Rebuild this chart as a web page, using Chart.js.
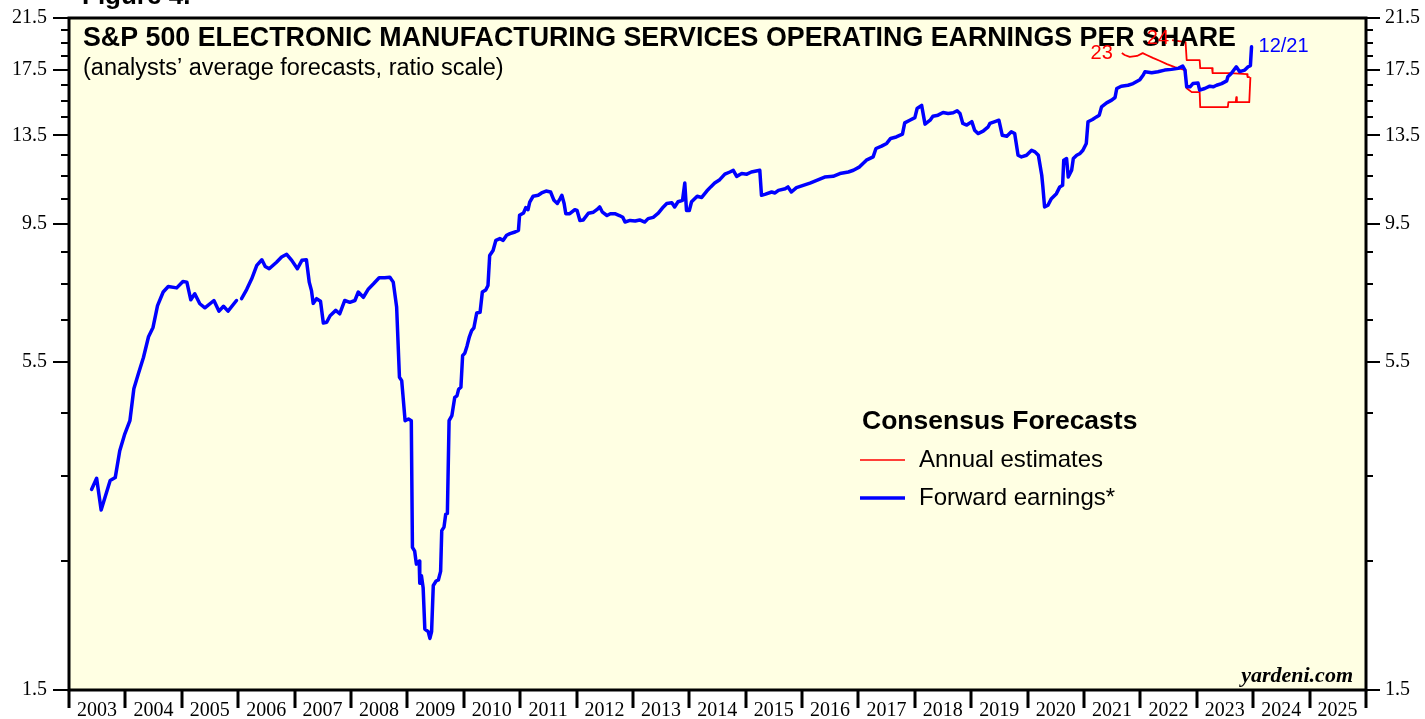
<!DOCTYPE html>
<html>
<head>
<meta charset="utf-8">
<script src="https://cdn.jsdelivr.net/npm/chart.js@4.4.0/dist/chart.umd.min.js"></script>
<style>
  html, body { margin: 0; padding: 0; background: #fff; }
</style>
</head>
<body>
<canvas id="grafica" width="1425" height="719"></canvas>
<script>
// forward earnings (weekly-ish readings), decimal years
const fwdDates = [
  2003.40, 2003.49, 2003.57, 2003.73, 2003.82, 2003.90, 2003.99, 2004.08, 2004.15, 2004.23,
  2004.32, 2004.41, 2004.49, 2004.57, 2004.67, 2004.76, 2004.91, 2005.02, 2005.09, 2005.16,
  2005.23, 2005.32, 2005.41, 2005.57, 2005.66, 2005.74, 2005.82, 2005.97, 2006.01, 2006.06,
  2006.15, 2006.24, 2006.33, 2006.42, 2006.48, 2006.55, 2006.68, 2006.77, 2006.86, 2006.95,
  2007.05, 2007.13, 2007.21, 2007.26, 2007.30, 2007.33, 2007.39, 2007.46, 2007.51, 2007.57,
  2007.63, 2007.73, 2007.80, 2007.89, 2007.98, 2008.07, 2008.13, 2008.22, 2008.31, 2008.40,
  2008.50, 2008.60, 2008.69, 2008.75, 2008.81, 2008.86, 2008.90, 2008.96, 2009.02, 2009.07,
  2009.09, 2009.13, 2009.16, 2009.21, 2009.22, 2009.25, 2009.28, 2009.31, 2009.37, 2009.40,
  2009.43, 2009.46, 2009.51, 2009.55, 2009.59, 2009.61, 2009.65, 2009.68, 2009.71, 2009.74,
  2009.79, 2009.84, 2009.88, 2009.91, 2009.95, 2009.98, 2010.02, 2010.06, 2010.10, 2010.14,
  2010.18, 2010.23, 2010.29, 2010.33, 2010.39, 2010.43, 2010.46, 2010.52, 2010.57, 2010.64,
  2010.70, 2010.76, 2010.82, 2010.91, 2010.97, 2010.99, 2011.06, 2011.10, 2011.14, 2011.17,
  2011.23, 2011.32, 2011.38, 2011.46, 2011.54, 2011.60, 2011.66, 2011.71, 2011.74, 2011.78,
  2011.81, 2011.88, 2011.97, 2012.01, 2012.06, 2012.12, 2012.21, 2012.30, 2012.36, 2012.41,
  2012.46, 2012.54, 2012.60, 2012.68, 2012.76, 2012.82, 2012.86, 2012.95, 2013.04, 2013.12,
  2013.21, 2013.27, 2013.36, 2013.45, 2013.54, 2013.60, 2013.69, 2013.74, 2013.80, 2013.88,
  2013.92, 2013.95, 2014.00, 2014.04, 2014.14, 2014.22, 2014.31, 2014.38, 2014.45, 2014.54,
  2014.63, 2014.72, 2014.78, 2014.84, 2014.93, 2015.02, 2015.10, 2015.25, 2015.28, 2015.34,
  2015.46, 2015.52, 2015.58, 2015.70, 2015.75, 2015.81, 2015.90, 2016.02, 2016.14, 2016.26,
  2016.40, 2016.55, 2016.67, 2016.82, 2016.91, 2017.02, 2017.14, 2017.26, 2017.31, 2017.41,
  2017.50, 2017.57, 2017.67, 2017.78, 2017.82, 2017.91, 2018.00, 2018.04, 2018.12, 2018.18,
  2018.27, 2018.32, 2018.41, 2018.50, 2018.59, 2018.68, 2018.75, 2018.80, 2018.85, 2018.92,
  2019.01, 2019.06, 2019.12, 2019.21, 2019.30, 2019.33, 2019.42, 2019.49, 2019.55, 2019.63,
  2019.71, 2019.77, 2019.83, 2019.89, 2019.98, 2020.07, 2020.13, 2020.19, 2020.25, 2020.27,
  2020.30, 2020.36, 2020.42, 2020.51, 2020.57, 2020.62, 2020.64, 2020.69, 2020.72, 2020.78,
  2020.81, 2020.87, 2020.93, 2020.98, 2021.04, 2021.07, 2021.15, 2021.22, 2021.27, 2021.31,
  2021.40, 2021.49, 2021.55, 2021.58, 2021.66, 2021.78, 2021.87, 2021.99, 2022.05, 2022.08,
  2022.20, 2022.31, 2022.43, 2022.55, 2022.67, 2022.75, 2022.79, 2022.82, 2022.88, 2022.93,
  2023.02, 2023.05, 2023.14, 2023.23, 2023.29, 2023.35, 2023.44, 2023.53, 2023.55, 2023.61,
  2023.70, 2023.76, 2023.85, 2023.91, 2023.95, 2023.97
];
const fwdValues = [
  3.32, 3.47, 3.06, 3.44, 3.48, 3.87, 4.14, 4.36, 4.95, 5.25,
  5.60, 6.08, 6.31, 6.88, 7.26, 7.42, 7.38, 7.57, 7.55, 7.04,
  7.21, 6.93, 6.82, 7.02, 6.73, 6.86, 6.73, 7.02, null, 7.07,
  7.33, 7.65, 8.07, 8.25, 8.03, 7.96, 8.17, 8.34, 8.43, 8.23,
  7.96, 8.23, 8.25, 7.55, 7.30, 6.94, 7.07, 7.00, 6.42, 6.44,
  6.61, 6.75, 6.66, 7.02, 6.97, 7.02, 7.26, 7.11, 7.35, 7.50,
  7.68, 7.68, 7.70, 7.55, 6.84, 5.18, 5.11, 4.36, 4.39, 4.36,
  2.64, 2.60, 2.47, 2.50, 2.29, 2.36, 2.25, 1.91, 1.89, 1.84,
  1.89, 2.27, 2.31, 2.32, 2.40, 2.82, 2.86, 3.01, 3.02, 4.36,
  4.45, 4.78, 4.81, 4.94, 4.98, 5.64, 5.70, 5.87, 6.08, 6.23,
  6.30, 6.68, 6.70, 7.26, 7.32, 7.45, 8.39, 8.56, 8.91, 8.97,
  8.91, 9.09, 9.15, 9.21, 9.27, 9.84, 9.93, 10.14, 10.06, 10.37,
  10.61, 10.65, 10.75, 10.83, 10.79, 10.44, 10.31, 10.51, 10.65, 10.31,
  9.90, 9.90, 10.06, 10.03, 9.64, 9.66, 9.92, 9.96, 10.06, 10.17,
  9.96, 9.83, 9.90, 9.90, 9.83, 9.76, 9.58, 9.64, 9.62, 9.66,
  9.58, 9.71, 9.76, 9.92, 10.17, 10.31, 10.34, 10.17, 10.38, 10.44,
  11.18, 10.03, 10.03, 10.38, 10.61, 10.56, 10.83, 11.01, 11.18, 11.33,
  11.58, 11.68, 11.76, 11.48, 11.61, 11.58, 11.68, 11.76, 10.65, 10.69,
  10.79, 10.75, 10.86, 10.93, 11.01, 10.79, 10.98, 11.08, 11.18, 11.30,
  11.45, 11.48, 11.61, 11.68, 11.76, 11.92, 12.24, 12.40, 12.82, 12.94,
  13.08, 13.34, 13.42, 13.57, 14.19, 14.34, 14.49, 15.02, 15.21, 14.12,
  14.34, 14.57, 14.63, 14.79, 14.73, 14.77, 14.89, 14.73, 14.16, 14.07,
  14.26, 13.78, 13.60, 13.73, 13.97, 14.16, 14.26, 14.34, 13.51, 13.46,
  13.70, 13.60, 12.48, 12.40, 12.48, 12.73, 12.65, 12.48, 11.53, 11.01,
  10.17, 10.24, 10.51, 10.72, 11.01, 11.08, 12.24, 12.32, 11.45, 11.76,
  12.32, 12.48, 12.57, 12.73, 13.08, 14.25, 14.38, 14.53, 14.63, 15.12,
  15.36, 15.53, 15.69, 16.26, 16.41, 16.47, 16.58, 16.84, 17.15, 17.38,
  17.31, 17.38, 17.49, 17.54, 17.61, 17.77, 17.49, 16.37, 16.37, 16.58,
  16.62, 16.15, 16.26, 16.41, 16.37, 16.47, 16.58, 16.76, 17.03, 17.26,
  17.72, 17.38, 17.49, 17.72, 17.80, 19.18
];

// annual consensus estimates
const est23Dates = [2021.67, 2021.72, 2021.81, 2021.94, 2022.04, 2022.11, 2022.22, 2022.34, 2022.47, 2022.61,
  2022.73, 2022.80, 2022.82, 2022.91, 2023.05, 2023.06, 2023.32, 2023.55, 2023.56, 2023.69,
  2023.70, 2023.71, 2023.93, 2023.95];
const est23Values = [18.71, 18.57, 18.43, 18.50, 18.71, 18.57, 18.36, 18.15, 17.91, 17.70,
  17.56, 17.49, 16.28, 16.03, 16.03, 15.10, 15.10, 15.10, 15.40, 15.40,
  15.71, 15.40, 15.40, 17.01];
const est24Dates = [2022.56, 2022.80, 2022.82, 2023.05, 2023.06, 2023.27, 2023.28, 2023.59, 2023.89, 2023.90, 2023.94];
const est24Values = [19.70, 19.54, 18.20, 18.20, 17.63, 17.63, 17.28, 17.28, 17.21, 17.01, 17.01];

// axes
const yearTicks = [2003, 2004, 2005, 2006, 2007, 2008, 2009, 2010, 2011, 2012, 2013, 2014,
  2015, 2016, 2017, 2018, 2019, 2020, 2021, 2022, 2023, 2024, 2025, 2026];
const yearLabels = ['2003', '2004', '2005', '2006', '2007', '2008', '2009', '2010', '2011', '2012',
  '2013', '2014', '2015', '2016', '2017', '2018', '2019', '2020', '2021', '2022', '2023', '2024', '2025'];
const yTicks = [1.5, 2.5, 3.5, 4.5, 5.5, 6.5, 7.5, 8.5, 9.5, 10.5, 11.5, 12.5, 13.5,
  14.5, 15.5, 16.5, 17.5, 18.5, 19.5, 20.5, 21.5];
const yTickLabels = [1.5, 5.5, 9.5, 13.5, 17.5, 21.5];

function pts(xs, ys) {
  return xs.map((x, i) => ({ x: x, y: ys[i] }));
}

function esEtiqueta(v) {
  return yTickLabels.some(l => Math.abs(l - v) < 1e-6);
}

const serif = "'Liberation Serif', 'Times New Roman', serif";
const sans = "'Liberation Sans', Arial, sans-serif";

const marco = {
  id: 'marco',
  beforeDraw(chart) {
    const { ctx, chartArea: a } = chart;
    ctx.save();
    ctx.fillStyle = '#ffffe3';
    ctx.fillRect(a.left, a.top, a.right - a.left, a.bottom - a.top);
    ctx.restore();
  },
  afterDatasetsDraw(chart) {
    const { ctx, chartArea: a } = chart;
    const sx = chart.scales.x;
    const sy = chart.scales.y;
    ctx.save();
    ctx.textAlign = 'left';
    ctx.textBaseline = 'alphabetic';
    ctx.fillStyle = '#000';
    ctx.font = 'bold 26px ' + sans;
    ctx.fillText('Figure 4.', 82, 4);

    ctx.font = 'bold 26.8px ' + sans;
    ctx.fillText('S&P 500 ELECTRONIC MANUFACTURING SERVICES OPERATING EARNINGS PER SHARE', 83, 46);
    ctx.font = '23.5px ' + sans;
    ctx.fillText('(analysts\u2019 average forecasts, ratio scale)', 83, 75);

    // serie labels
    ctx.font = '20px ' + sans;
    ctx.textBaseline = 'middle';
    ctx.fillStyle = '#ff0000';
    ctx.textAlign = 'right';
    ctx.fillText('23', sx.getPixelForValue(est23Dates[0]) - 9, sy.getPixelForValue(est23Values[0]));
    ctx.fillText('24', sx.getPixelForValue(est24Dates[0]) - 3, sy.getPixelForValue(est24Values[0]) - 2);

    const n = fwdDates.length - 1;
    ctx.fillStyle = '#0000ff';
    ctx.textAlign = 'left';
    ctx.fillText('12/21', sx.getPixelForValue(fwdDates[n]) + 7, sy.getPixelForValue(fwdValues[n]));

    // legend
    ctx.fillStyle = '#000';
    ctx.font = 'bold 26.5px ' + sans;
    ctx.fillText('Consensus Forecasts', 862, 422);
    ctx.font = '24px ' + sans;
    ctx.fillText('Annual estimates', 919, 460);
    ctx.fillText('Forward earnings*', 919, 498);
    ctx.strokeStyle = '#ff0000';
    ctx.lineWidth = 1.6;
    ctx.beginPath();
    ctx.moveTo(860, 460);
    ctx.lineTo(905, 460);
    ctx.stroke();
    ctx.strokeStyle = '#0000ff';
    ctx.lineWidth = 3.5;
    ctx.beginPath();
    ctx.moveTo(860, 498);
    ctx.lineTo(905, 498);
    ctx.stroke();

    ctx.fillStyle = '#000';
    ctx.textAlign = 'right';
    ctx.textBaseline = 'alphabetic';
    ctx.font = 'italic bold 22px ' + serif;
    ctx.fillText('yardeni.com', a.right - 13, a.bottom - 8);
    ctx.restore();
  },
  afterDraw(chart) {
    const { ctx, chartArea: a } = chart;
    const sx = chart.scales.x;
    const sy = chart.scales.y;
    ctx.save();
    ctx.strokeStyle = '#000';
    ctx.lineWidth = 2;
    yTicks.forEach(v => {
      const y = Math.round(sy.getPixelForValue(v));
      const largo = esEtiqueta(v) ? 16 : 8;
      ctx.beginPath();
      ctx.moveTo(a.left - largo, y);
      ctx.lineTo(a.left, y);
      ctx.moveTo(a.right, y);
      ctx.lineTo(a.right + (esEtiqueta(v) ? 14 : 7), y);
      ctx.stroke();
    });
    ctx.lineWidth = 3;
    yearTicks.forEach(v => {
      const x = Math.round(sx.getPixelForValue(v));
      ctx.beginPath();
      ctx.moveTo(x, a.bottom);
      ctx.lineTo(x, a.bottom + 18);
      ctx.stroke();
    });
    ctx.strokeRect(a.left, a.top, a.right - a.left, a.bottom - a.top);
    ctx.restore();
  }
};

function sinRelleno(s) {
  s.paddingTop = 0;
  s.paddingBottom = 0;
  s.paddingLeft = 0;
  s.paddingRight = 0;
}

const ejeY = (pos, ancho, pad) => ({
  type: 'logarithmic',
  position: pos,
  min: 1.5,
  max: 21.5,
  afterBuildTicks: s => { s.ticks = yTicks.map(v => ({ value: v })); },
  afterFit: s => { s.width = ancho; sinRelleno(s); },
  grid: { display: false, drawTicks: false },
  border: { display: false },
  ticks: {
    padding: pad,
    color: '#000',
    font: { family: serif, size: 20 },
    callback: v => esEtiqueta(v) ? Number(v).toFixed(1) : ''
  }
});

new Chart(document.getElementById('grafica'), {
  type: 'line',
  data: {
    datasets: [
      {
        label: 'Forward earnings*',
        data: pts(fwdDates, fwdValues),
        borderColor: '#0000ff',
        borderWidth: 3.5,
        borderJoinStyle: 'round',
        borderCapStyle: 'round',
        pointRadius: 0,
        tension: 0,
        spanGaps: false,
        order: 0
      },
      {
        label: '2023',
        data: pts(est23Dates, est23Values),
        borderColor: '#ff0000',
        borderWidth: 1.8,
        borderJoinStyle: 'round',
        pointRadius: 0,
        tension: 0,
        order: 1
      },
      {
        label: '2024',
        data: pts(est24Dates, est24Values),
        borderColor: '#ff0000',
        borderWidth: 1.8,
        borderJoinStyle: 'round',
        pointRadius: 0,
        tension: 0,
        order: 1
      }
    ]
  },
  options: {
    responsive: false,
    animation: false,
    devicePixelRatio: 1,
    layout: { padding: { top: 18, left: 0, right: 0, bottom: 0 } },
    plugins: { legend: { display: false }, tooltip: { enabled: false } },
    scales: {
      x: {
        type: 'linear',
        min: 2003,
        max: 2026,
        afterBuildTicks: s => { s.ticks = yearTicks.map(v => ({ value: v })); },
        afterFit: s => { s.height = 29; sinRelleno(s); },
        grid: { display: false, drawTicks: false },
        border: { display: false },
        ticks: {
          autoSkip: false,
          maxRotation: 0,
          minRotation: 0,
          labelOffset: 28,
          padding: 9,
          color: '#000',
          font: { family: serif, size: 20 },
          callback: (v, i) => yearLabels[i] || ''
        }
      },
      y: ejeY('left', 69, 22),
      y2: ejeY('right', 59, 19)
    }
  },
  plugins: [marco]
});
</script>
</body>
</html>
